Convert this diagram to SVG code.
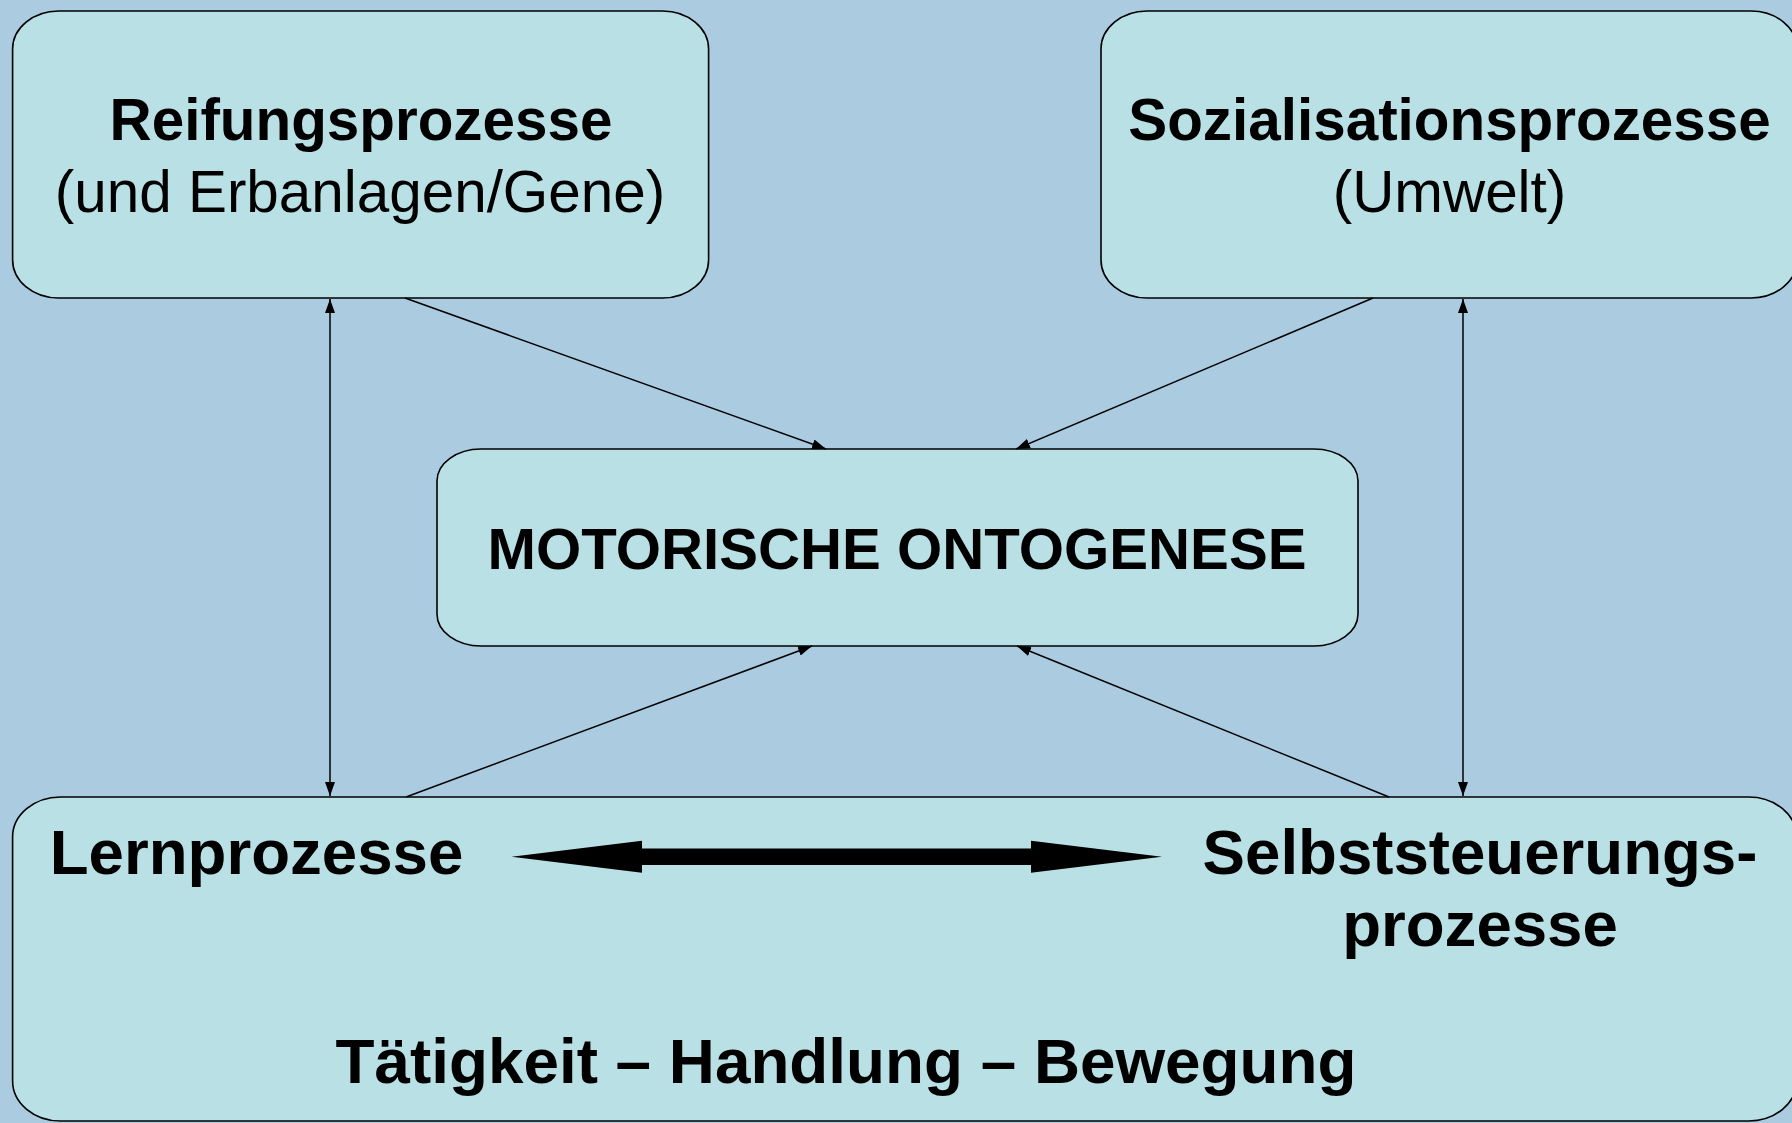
<svg xmlns="http://www.w3.org/2000/svg" width="1792" height="1123" viewBox="0 0 1792 1123">
<defs>
<style>
.box{fill:#b9e0e4;stroke:#000;stroke-width:1.6}
.conn{stroke:#000;stroke-width:1.5;fill:none}
.b{font-family:"Liberation Sans",Arial,sans-serif;font-weight:bold;fill:#000}
.r{font-family:"Liberation Sans",Arial,sans-serif;fill:#000}
</style>
<marker id="ah" markerUnits="userSpaceOnUse" markerWidth="15" markerHeight="11" refX="14" refY="5" orient="auto-start-reverse" viewBox="0 0 15 10">
<path d="M0,0 L14,5 L0,10 z" fill="#000"/>
</marker>
</defs>
<rect x="0" y="0" width="1792" height="1123" fill="#abcbe0"/>
<g id="node-reifung">
<rect class="box" x="12.6" y="11" width="696" height="287" rx="46" ry="38"/>
<text class="b" x="361" y="140" font-size="58.4" text-anchor="middle">Reifungsprozesse</text>
<text class="r" x="360" y="212" font-size="58.4" text-anchor="middle">(und Erbanlagen/Gene)</text>
</g>
<g id="node-sozialisation">
<rect class="box" x="1101" y="11" width="696" height="287" rx="46" ry="38"/>
<text class="b" x="1449.5" y="140" font-size="58.4" text-anchor="middle">Sozialisationsprozesse</text>
<text class="r" x="1449.5" y="212" font-size="58.4" text-anchor="middle">(Umwelt)</text>
</g>
<g id="node-motorik">
<rect class="box" x="437" y="449" width="921" height="197" rx="44" ry="32"/>
<text class="b" x="897" y="569" font-size="58.2" text-anchor="middle">MOTORISCHE ONTOGENESE</text>
</g>
<g id="node-bottom">
<rect class="box" x="12.6" y="797" width="1784" height="324" rx="48" ry="40"/>
<text class="b" x="256.5" y="874" font-size="63.6" text-anchor="middle">Lernprozesse</text>
<text class="b" x="1480" y="874" font-size="63.6" text-anchor="middle">Selbststeuerungs-</text>
<text class="b" x="1480" y="946" font-size="63.6" text-anchor="middle">prozesse</text>
<text class="b" x="846" y="1083" font-size="63.8" text-anchor="middle">Tätigkeit – Handlung – Bewegung</text>
<path d="M511.5,856.7 L642,840.7 L642,848.4 L1031,848.4 L1031,840.7 L1162,856.7 L1031,872.7 L1031,865 L642,865 L642,872.7 z" fill="#000"/>
</g>
<g id="connectors">
<line class="conn" x1="330" y1="299" x2="330" y2="796" marker-start="url(#ah)" marker-end="url(#ah)"/>
<line class="conn" x1="1463" y1="299" x2="1463" y2="796" marker-start="url(#ah)" marker-end="url(#ah)"/>
<line class="conn" x1="405" y1="298" x2="826" y2="449" marker-end="url(#ah)"/>
<line class="conn" x1="1373" y1="298" x2="1016" y2="449" marker-end="url(#ah)"/>
<line class="conn" x1="406" y1="797" x2="812" y2="646" marker-end="url(#ah)"/>
<line class="conn" x1="1389" y1="797" x2="1017" y2="646" marker-end="url(#ah)"/>
</g>
</svg>
